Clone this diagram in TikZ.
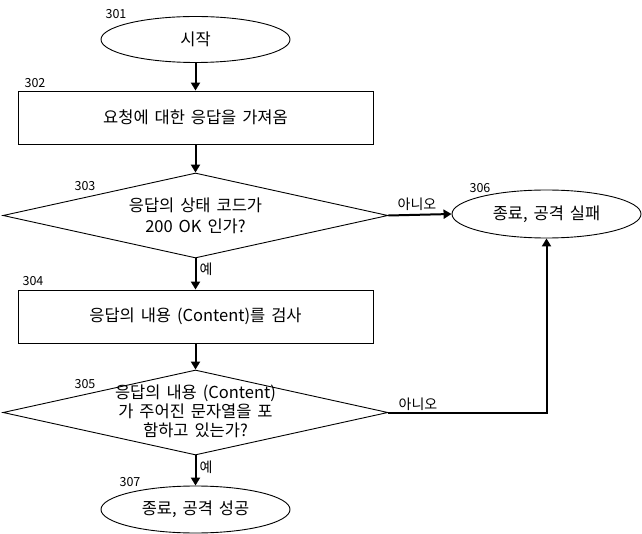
\documentclass[tikz,border=0pt]{standalone}
\usepackage{fontspec}
\setmainfont[WordSpace=1.6]{Noto Sans CJK KR}
\usetikzlibrary{arrows.meta,shapes.geometric}
\begin{document}
\begin{tikzpicture}[x=1pt,y=-1pt,
  txt/.style={font=\fontsize{16.5}{20.5}\selectfont, align=center, inner sep=0pt},
  num/.style={font=\fontsize{12.5}{14}\selectfont, inner sep=0pt},
  yn/.style={font=\fontsize{14}{16}\selectfont, inner sep=0pt},
  term/.style={draw, line width=0.9pt, ellipse, inner sep=0pt, minimum width=189pt, minimum height=46pt, font=\fontsize{16.5}{20}\selectfont},
  proc/.style={draw, line width=0.9pt, rectangle, inner sep=0pt, minimum width=355pt, minimum height=53pt, font=\fontsize{16.5}{20}\selectfont},
  dec/.style={draw, line width=0.9pt, diamond, inner sep=0pt, minimum width=385pt, minimum height=85pt},
  flow/.style={line width=2pt, -{Triangle[length=8pt,width=9pt]}}
]
\useasboundingbox (0,0) rectangle (642,534);

\node[term] (e1) at (195.5,39.5) {시작};
\node[proc] (r1) at (195.5,117.5) {요청에 대한 응답을 가져옴};
\node[dec] (d1) at (195.5,215.5) {};
\node[txt] (t1) at (195.5,216) {응답의 상태 코드가\\200 OK 인가?};
\node[term, minimum height=48pt] (e2) at (546.5,214) {종료, 공격 실패};
\node[proc] (r2) at (195.5,316.5) {응답의 내용 (Content)를 검사};
\node[dec] (d2) at (195.5,412.5) {};
\node[txt, font=\fontsize{16.5}{19}\selectfont] (t2) at (195.5,411) {응답의 내용 (Content)\\가 주어진 문자열을 포\\함하고 있는가?};
\node[term, minimum height=47pt] (e3) at (195.5,509.5) {종료, 공격 성공};

\node[num] (n301) at (116,14) {301};
\node[num] (n302) at (35,83) {302};
\node[num] (n303) at (85,186) {303};
\node[num] (n304) at (33,281) {304};
\node[num] (n305) at (85,384) {305};
\node[num] (n306) at (480,188) {306};
\node[num] (n307) at (130,482) {307};

\node[yn] (no1) at (417,204) {아니오};
\node[yn] (no2) at (418,404) {아니오};
\node[yn] (yes1) at (206,269) {예};
\node[yn] (yes2) at (206,467) {예};

\coordinate (c1) at (e2.south |- d2.east);

\draw[flow] (e1.south) -- (r1.north);
\draw[flow] (r1.south) -- (d1.north);
\draw[flow] (d1.east) -- (e2.west);
\draw[flow] (d1.south) -- (r2.north);
\draw[flow] (r2.south) -- (d2.north);
\draw[flow] (d2.east) -- (c1) -- (e2.south);
\draw[flow] (d2.south) -- (e3.north);
\end{tikzpicture}
\end{document}
